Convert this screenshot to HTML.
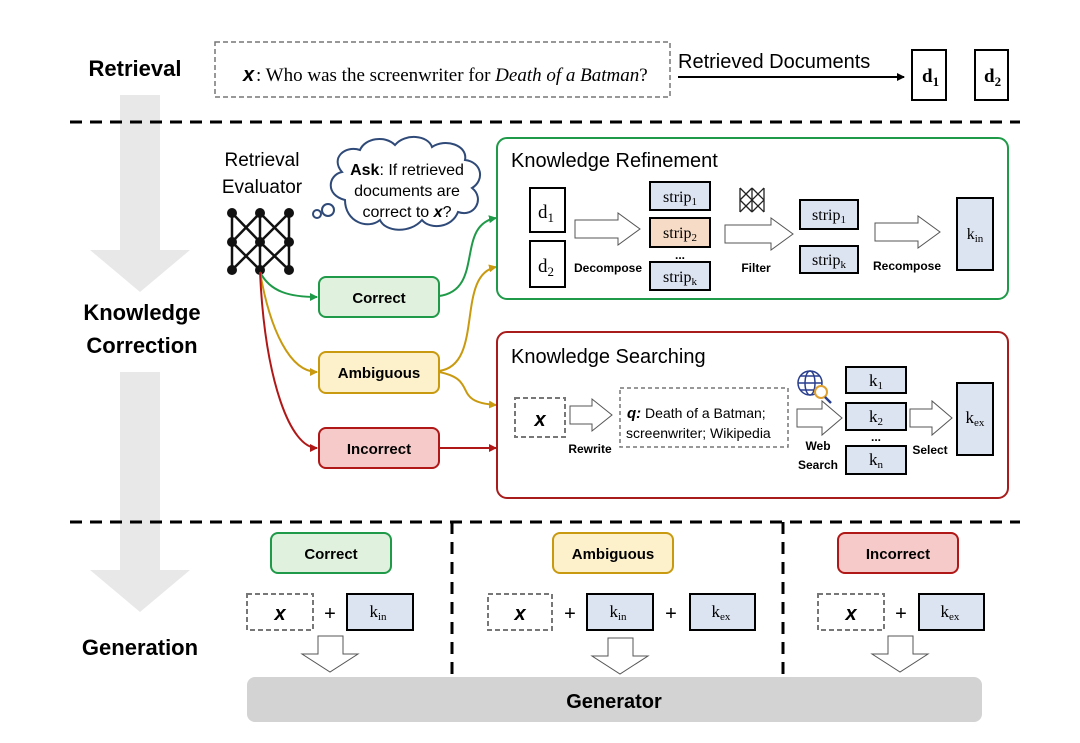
<!DOCTYPE html>
<html><head><meta charset="utf-8"><style>
body{margin:0;background:#fff}
svg{display:block}
text{font-family:"Liberation Sans",sans-serif}
.s{font-family:"Liberation Serif",serif}
.b{font-weight:bold}
</style></head><body>
<svg width="1080" height="743" viewBox="0 0 1080 743" xmlns="http://www.w3.org/2000/svg">
<defs>
<marker id="ab" markerWidth="8" markerHeight="8" refX="7" refY="4" orient="auto" markerUnits="userSpaceOnUse"><path d="M0,0 L8,4 L0,8 z" fill="#000"/></marker>
<marker id="ag" markerWidth="8" markerHeight="8" refX="7" refY="4" orient="auto" markerUnits="userSpaceOnUse"><path d="M0,0 L8,4 L0,8 z" fill="#1f9a48"/></marker>
<marker id="ay" markerWidth="8" markerHeight="8" refX="7" refY="4" orient="auto" markerUnits="userSpaceOnUse"><path d="M0,0 L8,4 L0,8 z" fill="#c99a10"/></marker>
<marker id="ar" markerWidth="8" markerHeight="8" refX="7" refY="4" orient="auto" markerUnits="userSpaceOnUse"><path d="M0,0 L8,4 L0,8 z" fill="#b01818"/></marker>
</defs>
<!-- big gray arrows -->
<g fill="#e8e8e8">
<polygon points="120,95 160,95 160,250 190,250 140,292 90,250 120,250"/>
<polygon points="120,372 160,372 160,570 190,570 140,612 90,570 120,570"/>
</g>
<!-- left labels -->
<text x="135" y="76" font-size="22" class="b" text-anchor="middle">Retrieval</text>
<rect x="70" y="295" width="140" height="70" fill="#fff"/>
<text x="142" y="320" font-size="22" class="b" text-anchor="middle">Knowledge</text>
<text x="142" y="353" font-size="22" class="b" text-anchor="middle">Correction</text>
<rect x="70" y="630" width="140" height="35" fill="#fff"/>
<text x="140" y="655" font-size="22" class="b" text-anchor="middle">Generation</text>
<!-- retrieval row -->
<rect x="215" y="42" width="455" height="55" fill="none" stroke="#777" stroke-width="1.5" stroke-dasharray="5,3"/>
<text x="243" y="81" font-size="20" class="b" font-style="italic">x</text>
<text x="256" y="81" font-size="19" class="s">: Who was the screenwriter for <tspan font-style="italic">Death of a Batman</tspan>?</text>
<text x="678" y="68" font-size="20">Retrieved Documents</text>
<line x1="678" y1="77" x2="904" y2="77" stroke="#000" stroke-width="2" marker-end="url(#ab)"/>
<rect x="912" y="50" width="34" height="50" fill="#fff" stroke="#000" stroke-width="2"/>
<text x="922" y="82" font-size="19" class="s b">d<tspan font-size="13" dy="4">1</tspan></text>
<rect x="975" y="50" width="33" height="50" fill="#fff" stroke="#000" stroke-width="2"/>
<text x="984" y="82" font-size="19" class="s b">d<tspan font-size="13" dy="4">2</tspan></text>
<line x1="70" y1="122" x2="1020" y2="122" stroke="#000" stroke-width="3" stroke-dasharray="12,8"/>
<!-- evaluator -->
<text x="262" y="166" font-size="19" text-anchor="middle">Retrieval</text>
<text x="262" y="193" font-size="19" text-anchor="middle">Evaluator</text>
<g stroke="#111" stroke-width="2.5">
<line x1="232" y1="213" x2="232" y2="270"/><line x1="260" y1="213" x2="260" y2="270"/><line x1="289" y1="213" x2="289" y2="270"/>
<line x1="232" y1="213" x2="260" y2="242"/><line x1="260" y1="213" x2="232" y2="242"/><line x1="260" y1="213" x2="289" y2="242"/><line x1="289" y1="213" x2="260" y2="242"/>
<line x1="232" y1="242" x2="260" y2="270"/><line x1="260" y1="242" x2="232" y2="270"/><line x1="260" y1="242" x2="289" y2="270"/><line x1="289" y1="242" x2="260" y2="270"/>
</g>
<g fill="#111">
<circle cx="232" cy="213" r="5"/><circle cx="260" cy="213" r="5"/><circle cx="289" cy="213" r="5"/>
<circle cx="232" cy="242" r="5"/><circle cx="260" cy="242" r="5"/><circle cx="289" cy="242" r="5"/>
<circle cx="232" cy="270" r="5"/><circle cx="260" cy="270" r="5"/><circle cx="289" cy="270" r="5"/>
</g>
<!-- cloud -->
<g fill="#fff" stroke="#2f4a78" stroke-width="2">
<circle cx="317" cy="214" r="4"/><circle cx="328" cy="210" r="6"/>
<path d="M345,200 C325,195 328,175 342,172 C330,158 345,145 360,150 C365,138 385,135 395,145 C405,133 428,135 432,147 C445,138 468,145 465,160 C482,162 485,180 472,188 C485,198 475,218 458,212 C452,228 430,230 422,220 C410,234 385,232 380,220 C368,230 345,222 345,200 Z"/>
</g>
<text x="407" y="175" font-size="16" text-anchor="middle"><tspan class="b">Ask</tspan>: If retrieved</text>
<text x="407" y="196" font-size="16" text-anchor="middle">documents are</text>
<text x="407" y="217" font-size="16" text-anchor="middle">correct to <tspan class="b" font-style="italic">x</tspan>?</text>
<!-- curves -->
<g fill="none" stroke-width="2">
<path d="M260,272 C270,292 290,297 317,297" stroke="#1f9a48" marker-end="url(#ag)"/>
<path d="M260,272 C270,330 290,372 317,372" stroke="#c99a10" marker-end="url(#ay)"/>
<path d="M260,272 C265,380 290,448 317,448" stroke="#b01818" marker-end="url(#ar)"/>
<path d="M439,296 C485,290 455,225 496,218" stroke="#1f9a48" marker-end="url(#ag)"/>
<path d="M439,371 C485,365 455,275 496,267" stroke="#c99a10" marker-end="url(#ay)"/>
<path d="M439,372 C480,380 450,402 496,405" stroke="#c99a10" marker-end="url(#ay)"/>
<path d="M439,448 L496,448" stroke="#b01818" marker-end="url(#ar)"/>
</g>
<!-- decision boxes -->
<rect x="319" y="277" width="120" height="40" rx="7" fill="#e0f1de" stroke="#1f9a48" stroke-width="2"/>
<text x="379" y="303" font-size="15" class="b" text-anchor="middle">Correct</text>
<rect x="319" y="352" width="120" height="41" rx="7" fill="#fdf1cc" stroke="#c99a10" stroke-width="2"/>
<text x="379" y="378" font-size="15" class="b" text-anchor="middle">Ambiguous</text>
<rect x="319" y="428" width="120" height="40" rx="7" fill="#f7caca" stroke="#b01818" stroke-width="2"/>
<text x="379" y="454" font-size="15" class="b" text-anchor="middle">Incorrect</text>
<!-- Knowledge Refinement -->
<rect x="497" y="138" width="511" height="161" rx="10" fill="#fff" stroke="#1f9a48" stroke-width="2"/>
<text x="511" y="167" font-size="20">Knowledge Refinement</text>
<rect x="530" y="188" width="35" height="44" fill="#fff" stroke="#000" stroke-width="2"/>
<text x="538" y="218" font-size="19" class="s">d<tspan font-size="13" dy="4">1</tspan></text>
<rect x="530" y="241" width="35" height="46" fill="#fff" stroke="#000" stroke-width="2"/>
<text x="538" y="272" font-size="19" class="s">d<tspan font-size="13" dy="4">2</tspan></text>
<g fill="#fff" stroke="#555" stroke-width="1">
<polygon points="575,220 618,220 618,213 640,229 618,245 618,238 575,238"/>
<polygon points="725,225 771,225 771,218 793,234 771,250 771,243 725,243"/>
<polygon points="875,223 918,223 918,216 940,232 918,248 918,241 875,241"/>
</g>
<text x="608" y="272" font-size="12" class="b" text-anchor="middle">Decompose</text>
<text x="756" y="272" font-size="12" class="b" text-anchor="middle">Filter</text>
<text x="907" y="270" font-size="12" class="b" text-anchor="middle">Recompose</text>
<g stroke="#000" stroke-width="2">
<rect x="650" y="182" width="60" height="28" fill="#dce3f1"/>
<rect x="650" y="218" width="60" height="29" fill="#f6dcc7"/>
<rect x="650" y="262" width="60" height="28" fill="#dce3f1"/>
<rect x="800" y="200" width="58" height="29" fill="#dce3f1"/>
<rect x="800" y="246" width="58" height="27" fill="#dce3f1"/>
<rect x="957" y="198" width="36" height="72" fill="#dce3f1"/>
</g>
<g font-size="16" class="s" text-anchor="middle">
<text x="680" y="202" class="s">strip<tspan font-size="11" dy="3">1</tspan></text>
<text x="680" y="238" class="s">strip<tspan font-size="11" dy="3">2</tspan></text>
<text x="680" y="259" font-size="12" class="b">...</text>
<text x="680" y="282" class="s">strip<tspan font-size="11" dy="3">k</tspan></text>
<text x="829" y="220" class="s">strip<tspan font-size="11" dy="3">1</tspan></text>
<text x="829" y="265" class="s">strip<tspan font-size="11" dy="3">k</tspan></text>
<text x="975" y="239" class="s">k<tspan font-size="11" dy="3">in</tspan></text>
</g>
<!-- small network icon -->
<g stroke="#222" stroke-width="1.3">
<line x1="740" y1="188" x2="740" y2="212"/><line x1="752" y1="188" x2="752" y2="212"/><line x1="764" y1="188" x2="764" y2="212"/>
<line x1="740" y1="188" x2="764" y2="212"/><line x1="764" y1="188" x2="740" y2="212"/><line x1="752" y1="188" x2="740" y2="200"/><line x1="752" y1="188" x2="764" y2="200"/><line x1="740" y1="200" x2="752" y2="212"/><line x1="764" y1="200" x2="752" y2="212"/>
</g>
<!-- Knowledge Searching -->
<rect x="497" y="332" width="511" height="166" rx="10" fill="#fff" stroke="#a81c1c" stroke-width="2"/>
<text x="511" y="363" font-size="20">Knowledge Searching</text>
<rect x="515" y="398" width="50" height="39" fill="#fff" stroke="#777" stroke-width="2" stroke-dasharray="5,3"/>
<text x="540" y="426" font-size="20" class="b" font-style="italic" text-anchor="middle">x</text>
<rect x="620" y="388" width="168" height="59" fill="#fff" stroke="#777" stroke-width="1.5" stroke-dasharray="4,3"/>
<text x="627" y="418" font-size="14"><tspan class="b" font-style="italic" font-size="15">q:</tspan>  Death of a Batman;</text>
<text x="626" y="438" font-size="14">screenwriter; Wikipedia</text>
<g fill="#fff" stroke="#555" stroke-width="1">
<polygon points="570,406 592,406 592,399 612,415 592,431 592,424 570,424"/>
<polygon points="797,409 822,409 822,401 842,418 822,435 822,427 797,427"/>
<polygon points="910,409 932,409 932,401 952,418 932,435 932,427 910,427"/>
</g>
<text x="590" y="453" font-size="12" class="b" text-anchor="middle">Rewrite</text>
<text x="818" y="450" font-size="12" class="b" text-anchor="middle">Web</text>
<text x="818" y="469" font-size="12" class="b" text-anchor="middle">Search</text>
<text x="930" y="454" font-size="12" class="b" text-anchor="middle">Select</text>
<!-- globe -->
<g fill="none" stroke="#2a3f8f" stroke-width="1.5">
<circle cx="810" cy="383" r="12"/><ellipse cx="810" cy="383" rx="5" ry="12"/><line x1="798" y1="383" x2="822" y2="383"/><line x1="800" y1="376" x2="820" y2="376"/><line x1="800" y1="390" x2="820" y2="390"/>
</g>
<circle cx="821" cy="392" r="6" fill="#fff" stroke="#e0a030" stroke-width="2"/>
<line x1="825" y1="397" x2="831" y2="403" stroke="#2a3f8f" stroke-width="2.5"/>
<g stroke="#000" stroke-width="2" fill="#dce3f1">
<rect x="846" y="367" width="60" height="26"/>
<rect x="846" y="403" width="60" height="27"/>
<rect x="846" y="446" width="60" height="28"/>
<rect x="957" y="383" width="36" height="72"/>
</g>
<g font-size="17" class="s" text-anchor="middle">
<text x="876" y="386" class="s">k<tspan font-size="11" dy="3">1</tspan></text>
<text x="876" y="422" class="s">k<tspan font-size="11" dy="3">2</tspan></text>
<text x="876" y="441" font-size="12" class="b">...</text>
<text x="876" y="465" class="s">k<tspan font-size="11" dy="3">n</tspan></text>
<text x="975" y="423" class="s">k<tspan font-size="11" dy="3">ex</tspan></text>
</g>
<!-- generation -->
<line x1="70" y1="522" x2="1020" y2="522" stroke="#000" stroke-width="3" stroke-dasharray="12,8"/>
<line x1="452" y1="522" x2="452" y2="680" stroke="#000" stroke-width="3" stroke-dasharray="12,8"/>
<line x1="783" y1="522" x2="783" y2="680" stroke="#000" stroke-width="3" stroke-dasharray="12,8"/>
<rect x="271" y="533" width="120" height="40" rx="7" fill="#e0f1de" stroke="#1f9a48" stroke-width="2"/>
<text x="331" y="559" font-size="15" class="b" text-anchor="middle">Correct</text>
<rect x="553" y="533" width="120" height="40" rx="7" fill="#fdf1cc" stroke="#c99a10" stroke-width="2"/>
<text x="613" y="559" font-size="15" class="b" text-anchor="middle">Ambiguous</text>
<rect x="838" y="533" width="120" height="40" rx="7" fill="#f7caca" stroke="#b01818" stroke-width="2"/>
<text x="898" y="559" font-size="15" class="b" text-anchor="middle">Incorrect</text>
<g fill="#fff" stroke="#777" stroke-width="2" stroke-dasharray="5,3">
<rect x="247" y="594" width="66" height="36"/>
<rect x="488" y="594" width="64" height="36"/>
<rect x="818" y="594" width="66" height="36"/>
</g>
<g font-size="20" class="b" font-style="italic" text-anchor="middle">
<text x="280" y="620">x</text><text x="520" y="620">x</text><text x="851" y="620">x</text>
</g>
<g font-size="20" text-anchor="middle">
<text x="330" y="620">+</text><text x="570" y="620">+</text><text x="671" y="620">+</text><text x="901" y="620">+</text>
</g>
<g stroke="#000" stroke-width="2" fill="#dce3f1">
<rect x="347" y="594" width="66" height="36"/>
<rect x="587" y="594" width="66" height="36"/>
<rect x="690" y="594" width="65" height="36"/>
<rect x="919" y="594" width="65" height="36"/>
</g>
<g font-size="17" class="s" text-anchor="middle">
<text x="378" y="617" class="s">k<tspan font-size="11" dy="3">in</tspan></text>
<text x="618" y="617" class="s">k<tspan font-size="11" dy="3">in</tspan></text>
<text x="721" y="617" class="s">k<tspan font-size="11" dy="3">ex</tspan></text>
<text x="950" y="617" class="s">k<tspan font-size="11" dy="3">ex</tspan></text>
</g>
<g fill="#fff" stroke="#555" stroke-width="1">
<polygon points="318,636 343,636 343,654 358,654 330,672 302,654 318,654"/>
<polygon points="608,638 633,638 633,656 648,656 620,674 592,656 608,656"/>
<polygon points="888,636 913,636 913,654 928,654 900,672 872,654 888,654"/>
</g>
<rect x="247" y="677" width="735" height="45" rx="8" fill="#d3d3d3"/>
<text x="614" y="708" font-size="20" class="b" text-anchor="middle">Generator</text>
</svg>
</body></html>
